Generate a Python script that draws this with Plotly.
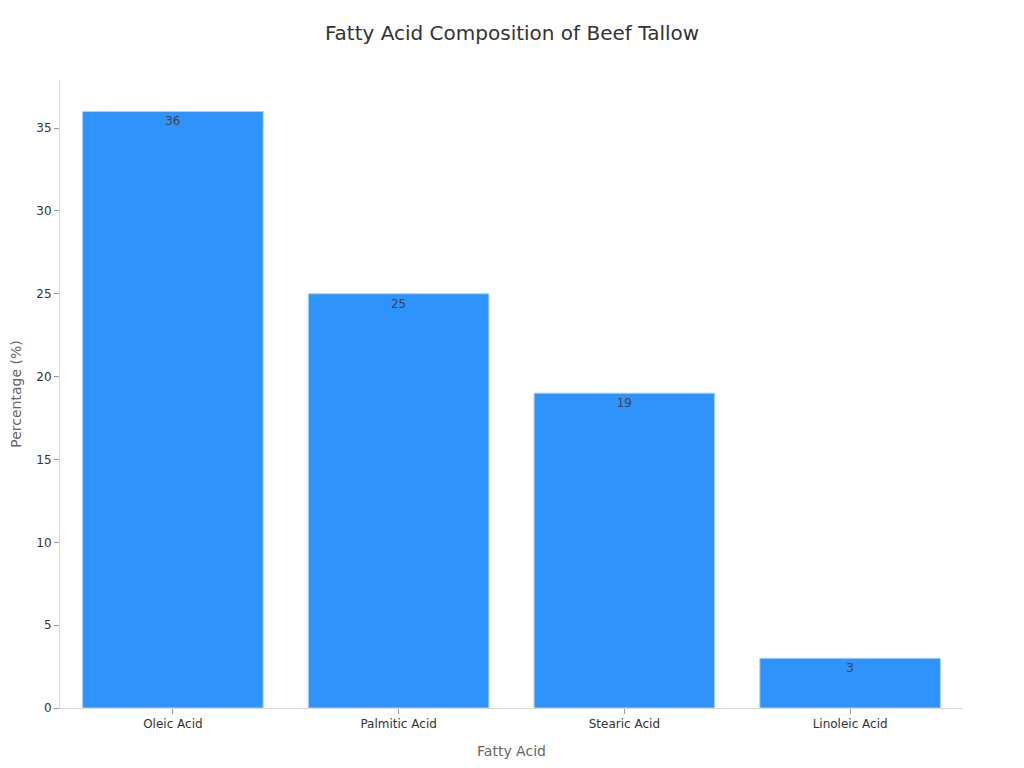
import plotly.graph_objects as go

categories = ["Oleic Acid", "Palmitic Acid", "Stearic Acid", "Linoleic Acid"]
values = [36, 25, 19, 3]

fig = go.Figure(go.Bar(
    x=categories, y=values,
    text=[str(v) for v in values],
    textposition="inside", insidetextanchor="end",
    textfont=dict(size=12, color="#444444"),
    marker=dict(color="#2E93FA", line=dict(color="#A8D0FF", width=1)),
))

fig.update_layout(
    width=1024, height=768,
    margin=dict(l=52, r=69, t=72, b=68),
    paper_bgcolor="white", plot_bgcolor="white",
    font=dict(family="DejaVu Sans, Verdana, sans-serif", color="#333333", size=12),
    title=dict(text="Fatty Acid Composition of Beef Tallow", x=0.5 - 8/1024, xanchor="center",
               y=1 - 25/768, yanchor="middle", font=dict(size=20, color="#333333")),
    bargap=0.2,
    xaxis=dict(title=dict(text="Fatty Acid", font=dict(size=14, color="#666666")),
               automargin=False,
               showline=True, linecolor="#D9D9D9", ticks="outside", tickcolor="#999999",
               ticklen=5, tickfont=dict(size=12, color="#333333")),
    yaxis=dict(title=dict(text="Percentage (%)", font=dict(size=14, color="#666666"), standoff=16),
               automargin=False,
               range=[0, 37.9], dtick=5, showgrid=False, zeroline=False,
               showline=True, linecolor="#D9D9D9", ticks="outside", tickcolor="#999999",
               ticklen=5, tickfont=dict(size=12, color="#333333")),
)

fig.write_html("out.html")
